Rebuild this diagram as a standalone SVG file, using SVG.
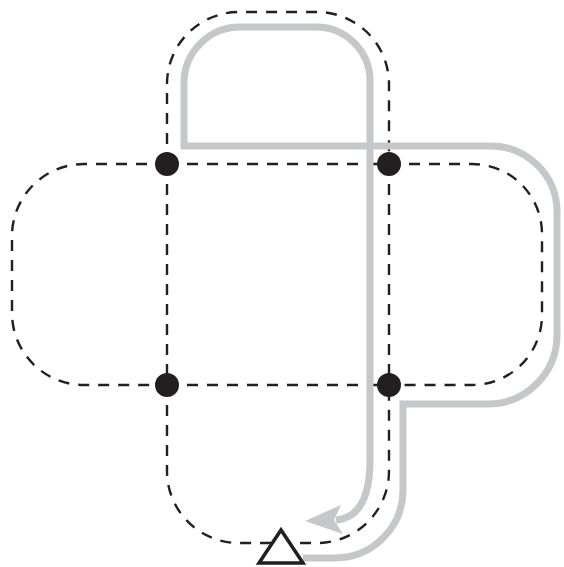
<svg xmlns="http://www.w3.org/2000/svg" width="564" height="567" viewBox="0 0 564 567">
<style>
.dash{fill:none;stroke:#231f20;stroke-width:2.4;stroke-dasharray:11 9}
.route{fill:none;stroke:#c6c7c8;stroke-width:7}
.dot{fill:#231f20}
.tri{fill:#fff;stroke:#231f20;stroke-width:3.5;stroke-linejoin:miter}
</style>
<rect width="564" height="567" fill="#fff"/>
<g id="connectors">
<path class="dash" d="M167,164 V84 A72,72 0 0 1 239,12 H317 A72,72 0 0 1 389,84 V164"/>
<path class="dash" d="M167,164 H84 A72,72 0 0 0 12,236 V313 A72,72 0 0 0 84,385 H167"/>
<path class="dash" d="M389,164 H472 A70,70 0 0 1 542,234 V315 A70,70 0 0 1 472,385 H389"/>
<path class="dash" d="M167,385 V471 A72,72 0 0 0 239,543 H317 A72,72 0 0 0 389,471 V385"/>
<path class="dash" d="M167,164 H389 M167,385 H389 M167,164 V385 M389,164 V385"/>
<path class="route" d="M303,558 H335 A68,68 0 0 0 403,490 V404 H488 A69,69 0 0 0 557,335 V212 A66,66 0 0 0 491,146 H184 V83 A56,56 0 0 1 240,27 H316 A54,54 0 0 1 370,81 V460 Q370,517 336,520"/>
<polygon fill="#c6c7c8" points="305,521 341,505 334,520 343,534"/>
</g>
<g id="node-tl"><circle class="dot" cx="167" cy="164" r="12"/></g>
<g id="node-tr"><circle class="dot" cx="389" cy="164" r="12"/></g>
<g id="node-bl"><circle class="dot" cx="167" cy="385" r="12"/></g>
<g id="node-br"><circle class="dot" cx="389" cy="385" r="12"/></g>
<g id="node-start"><polygon class="tri" points="281,530 259,563 303,563"/></g>
</svg>
